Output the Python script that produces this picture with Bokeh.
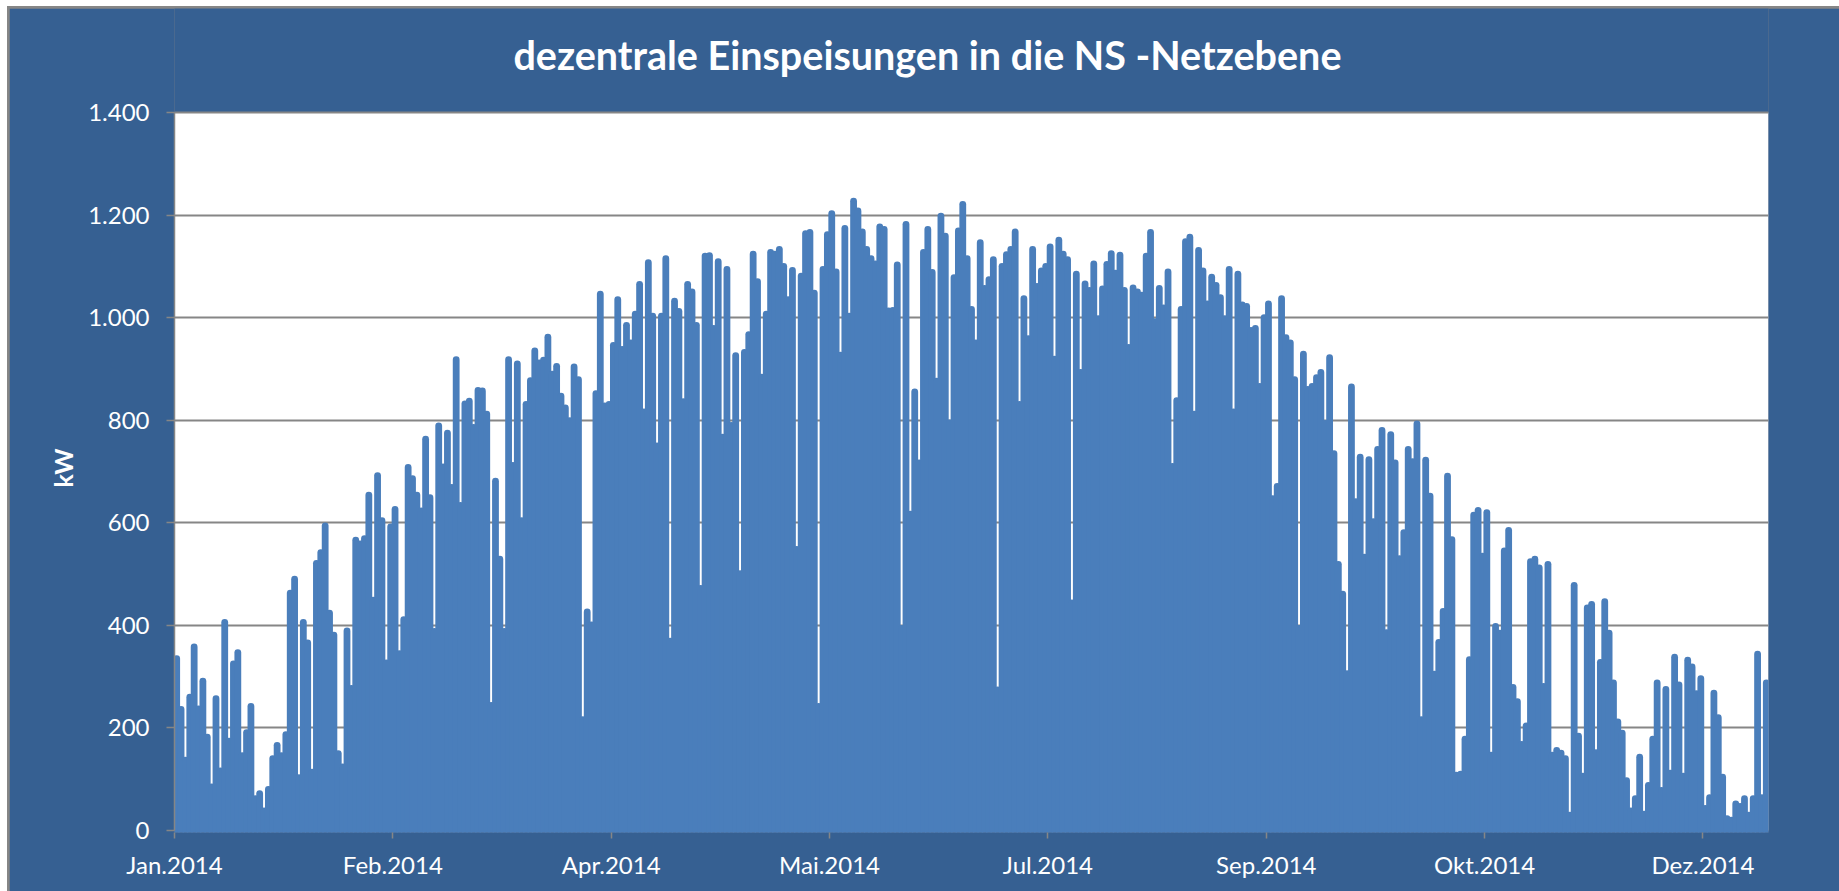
from bokeh.core.properties import value
from bokeh.embed import file_html
from bokeh.resources import INLINE
from bokeh.plotting import figure
from bokeh.models import FixedTicker, Range1d, LinearAxis, Grid, Title

TITLE = "dezentrale Einspeisungen in die NS -Netzebene"
Y_LABEL = "kW"
x_ticks = [0, 50, 100, 150, 200, 250, 300, 350]
x_labels = ["Jan.2014", "Feb.2014", "Apr.2014", "Mai.2014", "Jul.2014", "Sep.2014", "Okt.2014", "Dez.2014"]
y_ticks = [0, 200, 400, 600, 800, 1000, 1200, 1400]
y_labels = ["0", "200", "400", "600", "800", "1.000", "1.200", "1.400"]

# daily peak feed-in (kW), day 1 .. day 365
jan_feb = [341, 242, 143, 266, 364, 243, 297, 188, 91, 263, 122, 412, 180, 331, 353, 152, 197, 248, 68, 78,
           44, 86, 146, 172, 152, 193, 469, 496, 109, 412, 372, 120, 527, 548, 600, 430, 387, 156, 130, 395,
           283, 572, 565, 575, 660, 455, 698, 610, 333, 598]
feb_apr = [632, 351, 417, 714, 692, 660, 629, 769, 655, 394, 795, 715, 781, 675, 924, 640, 838, 843, 792, 864,
           863, 818, 250, 687, 535, 394, 924, 718, 916, 610, 837, 883, 941, 918, 923, 968, 896, 911, 853, 830,
           805, 910, 885, 222, 432, 407, 858, 1052, 834, 837]
apr_mai = [952, 1041, 944, 991, 957, 1013, 1071, 822, 1113, 1009, 756, 1009, 1121, 375, 1038, 1018, 842, 1071, 1056, 991,
           478, 1126, 1127, 985, 1115, 773, 1100, 796, 932, 507, 938, 973, 1130, 1076, 890, 1013, 1133, 1130, 1139, 1106,
           1041, 1098, 554, 1087, 1170, 1172, 1054, 248, 1100, 1168]
mai_jul = [1209, 1095, 933, 1180, 1009, 1233, 1214, 1173, 1139, 1121, 1111, 1183, 1178, 1019, 1020, 1109, 400, 1188, 623, 861,
           723, 1133, 1178, 1094, 882, 1204, 1165, 801, 1084, 1175, 1227, 1121, 1022, 957, 1152, 1063, 1080, 1119, 280, 1106,
           1129, 1139, 1173, 837, 1043, 965, 1139, 1067, 1097, 1106]
jul_sep = [1144, 925, 1157, 1130, 1119, 450, 1091, 899, 1072, 1059, 1111, 1004, 1062, 1110, 1131, 1093, 1128, 1059, 948, 1064,
           1056, 1050, 1126, 1172, 998, 1063, 1025, 1095, 716, 844, 1022, 1154, 1163, 818, 1137, 1097, 1033, 1085, 1069, 1045,
           1004, 1100, 822, 1091, 1031, 1028, 981, 985, 872, 1006]
sep_okt = [1033, 653, 677, 1043, 967, 957, 885, 400, 935, 866, 872, 889, 899, 800, 928, 741, 525, 467, 312, 871,
           647, 734, 539, 729, 608, 749, 786, 392, 778, 723, 536, 587, 749, 725, 799, 222, 728, 658, 311, 373,
           433, 697, 573, 114, 116, 184, 339, 621, 630, 541]
okt_dez = [626, 153, 404, 391, 551, 591, 285, 257, 174, 210, 530, 535, 518, 287, 525, 153, 162, 157, 146, 36,
           484, 190, 112, 440, 447, 158, 334, 452, 391, 294, 218, 196, 103, 44, 68, 149, 38, 94, 184, 294,
           84, 281, 118, 344, 290, 112, 338, 325, 273, 302]
dez = [49, 70, 274, 226, 110, 29, 26, 58, 53, 68, 36, 68, 350, 70, 294]

daily_kw = jan_feb + feb_apr + apr_mai + mai_jul + jul_sep + sep_okt + okt_dez + dez
days = [i + 0.5 for i in range(len(daily_kw))]

BG = "#366092"
GREY = "#868686"
BLUE = "#4a7ebb"
FONT = "Lato"

# the frame runs up to the top of the panel so the title can sit inside it, high above the white plot area
p = figure(
    frame_width=1594, frame_height=824,
    min_border_left=165, min_border_top=0, min_border_right=71, min_border_bottom=59,
    x_range=Range1d(0, 365), y_range=Range1d(-3.9, 1602.8),
    output_backend="svg", toolbar_location=None,
    background_fill_color=BG, border_fill_color=BG, outline_line_color=None,
    x_axis_type=None, y_axis_type=None,
)
p.text(x=[77.6], y=[1514], text=[TITLE], text_align="left", text_baseline="middle",
       text_color="#ffffff", text_font=value(FONT), text_font_size="39.5px", text_font_style="bold")

p.quad(left=[0], right=[365], bottom=[0], top=[1400], color="#ffffff", line_color=None, level="image")

xax = LinearAxis(ticker=FixedTicker(ticks=x_ticks), major_label_overrides=dict(zip(x_ticks, x_labels)))
xax.axis_line_color = None
xax.major_tick_line_color = GREY
xax.major_tick_line_width = 1.5
xax.major_tick_in = 0
xax.major_tick_out = 6
xax.major_label_standoff = 11
xax.major_label_text_color = "#ffffff"
xax.major_label_text_font = FONT
xax.major_label_text_font_size = "24px"
xax.minor_tick_line_color = None
p.add_layout(xax, "below")

yax = LinearAxis(ticker=FixedTicker(ticks=y_ticks), major_label_overrides=dict(zip(y_ticks, y_labels)), bounds=(0, 1400))
yax.axis_line_color = GREY
yax.axis_line_width = 1.5
yax.major_tick_line_color = GREY
yax.major_tick_line_width = 1.5
yax.major_tick_in = 0
yax.major_tick_out = 8
yax.major_label_standoff = 17
yax.major_label_text_color = "#ffffff"
yax.major_label_text_font = FONT
yax.major_label_text_font_size = "24px"
yax.minor_tick_line_color = None
p.add_layout(yax, "left")

# the unit label is centred on the white plot area, not on the taller frame
p.add_layout(Title(text=Y_LABEL, align="left", offset=345, standoff=15,
                   text_color="#ffffff", text_font=FONT, text_font_style="bold", text_font_size="25px"), "left")

p.add_layout(Grid(dimension=1, ticker=FixedTicker(ticks=y_ticks), grid_line_color=GREY, grid_line_width=1.8, level="underlay"))

# each day is a thick round-capped stroke from zero to that day's peak
CAP_KW = 6
tops = [v - CAP_KW for v in daily_kw]
p.segment(x0=days, y0=[0] * len(days), x1=days, y1=tops, line_color=BLUE, line_width=6.8, line_cap="round")

html = file_html(p, INLINE)
# the white page edge and the grey frame line of the panel sit at the top and left only
css = ("<style>html{background:linear-gradient(%s,%s) 7px 6px/100%% 100%% no-repeat #fff;}"
       "body{margin:8px 0 0 9px;height:calc(100%% - 8px);width:calc(100%% - 9px);}</style>" % (GREY, GREY))
html = html.replace("</head>", css + "</head>", 1)
open("out.html", "w").write(html)
